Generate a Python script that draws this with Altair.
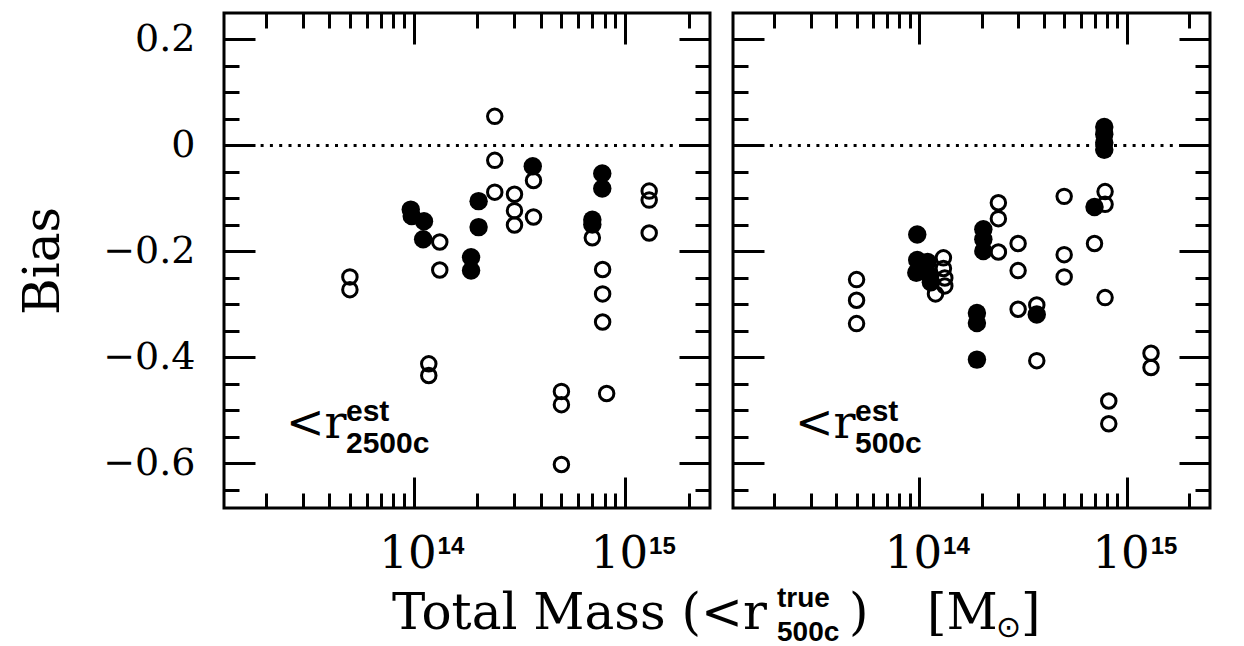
import altair as alt
import pandas as pd

# ---------------- data ----------------
# Left panel (< r_2500c^est): total mass (M_sun) and bias
left_open_mass = [5.0e13, 5.0e13, 2.42e14, 2.42e14, 2.42e14, 3.0e14, 3.0e14, 3.0e14,
                  3.69e14, 3.69e14, 1.33e14, 1.33e14, 1.18e14, 1.18e14, 5.0e14, 5.0e14,
                  5.0e14, 7.0e14, 7.83e14, 7.83e14, 7.83e14, 8.18e14, 1.30e15, 1.30e15, 1.30e15]
left_open_bias = [-0.248, -0.272, 0.055, -0.028, -0.088, -0.092, -0.123, -0.150,
                  -0.066, -0.135, -0.182, -0.235, -0.412, -0.434, -0.464, -0.489,
                  -0.602, -0.174, -0.234, -0.280, -0.333, -0.468, -0.086, -0.103, -0.165]
left_filled_mass = [9.7e13, 9.8e13, 1.12e14, 1.11e14, 1.87e14, 1.87e14, 2.03e14, 2.03e14,
                    3.66e14, 7.8e14, 7.8e14, 7.0e14, 7.0e14]
left_filled_bias = [-0.121, -0.133, -0.143, -0.177, -0.211, -0.236, -0.105, -0.154,
                    -0.039, -0.053, -0.081, -0.140, -0.149]

# Right panel (< r_500c^est)
right_open_mass = [5.0e13, 5.0e13, 5.0e13, 1.31e14, 1.31e14, 1.33e14, 1.33e14, 1.20e14,
                   2.41e14, 2.41e14, 2.41e14, 3.0e14, 3.0e14, 3.0e14, 3.69e14, 3.69e14,
                   5.0e14, 5.0e14, 5.0e14, 7.0e14, 7.87e14, 7.87e14, 7.87e14, 8.2e14, 8.2e14,
                   1.31e15, 1.31e15]
right_open_bias = [-0.253, -0.292, -0.336, -0.212, -0.232, -0.250, -0.265, -0.280,
                   -0.108, -0.138, -0.201, -0.185, -0.236, -0.309, -0.301, -0.406,
                   -0.096, -0.206, -0.248, -0.185, -0.087, -0.111, -0.287, -0.482, -0.525,
                   -0.392, -0.419]
right_filled_mass = [9.8e13, 9.8e13, 9.7e13, 1.10e14, 1.12e14, 1.14e14, 2.04e14, 2.04e14,
                     2.04e14, 1.90e14, 1.90e14, 1.90e14, 3.69e14, 7.0e14, 7.8e14, 7.8e14,
                     7.8e14, 7.8e14]
right_filled_bias = [-0.168, -0.216, -0.240, -0.220, -0.245, -0.258, -0.158, -0.177,
                     -0.199, -0.316, -0.335, -0.404, -0.319, -0.116, 0.035, 0.021,
                     0.005, -0.008]

# axis extents and ticks
x_domain = [1.27e13, 2.52e15]
y_domain = [-0.684, 0.25]
x_major = [1e14, 1e15]
x_minor = [2e13, 3e13, 4e13, 5e13, 6e13, 7e13, 8e13, 9e13,
           2e14, 3e14, 4e14, 5e14, 6e14, 7e14, 8e14, 9e14, 2e15]
y_major = [-0.6, -0.4, -0.2, 0.0, 0.2]
y_minor = [-0.65, -0.55, -0.5, -0.45, -0.35, -0.3, -0.25, -0.15, -0.1, -0.05, 0.05, 0.1, 0.15]
x_tick_base = ["10", "10"]
x_tick_exp = ["14", "15"]

SERIF = "DejaVu Serif"
SANSB = "Liberation Sans"
MAJ, MIN = 31, 15


def panel(open_m, open_b, fill_m, fill_b, sub_label, width, left_panel):
    xs = alt.Scale(type="log", domain=x_domain, nice=False)
    ys = alt.Scale(domain=y_domain, nice=False, zero=False)
    pts_open = pd.DataFrame({"m": open_m, "b": open_b})
    pts_fill = pd.DataFrame({"m": fill_m, "b": fill_b})
    allpts = pd.concat([pts_open, pts_fill])
    one = pd.DataFrame({"a": [0]})

    def ax_layer(xo, yo, xv, yv, size, labels):
        yaxis_kw = dict(orient=yo, values=yv, tickSize=size, offset=-size, domain=False,
                        grid=False, tickColor="black", tickWidth=3, labels=labels)
        if labels:
            yaxis_kw.update(labelExpr="datum.value == 0 ? '0' : format(datum.value, '.1f')",
                            labelFont=SERIF, labelFontSize=38, labelColor="black",
                            labelPadding=29, title="Bias", titleFont=SERIF,
                            titleFontSize=50, titleFontWeight="normal", titleColor="black",
                            titlePadding=34)
        else:
            yaxis_kw.update(title=None)
        return alt.Chart(allpts).mark_point(opacity=0).encode(
            x=alt.X("m:Q", scale=xs,
                    axis=alt.Axis(orient=xo, values=xv, tickSize=size, offset=-size,
                                  domain=False, labels=False, grid=False, title=None,
                                  tickColor="black", tickWidth=3)),
            y=alt.Y("b:Q", scale=ys, axis=alt.Axis(**yaxis_kw)),
        )

    layers = [
        ax_layer("bottom", "left", x_major, y_major, MAJ, left_panel),
        ax_layer("bottom", "left", x_minor, y_minor, MIN, False),
        ax_layer("top", "right", x_major, y_major, MAJ, False),
        ax_layer("top", "right", x_minor, y_minor, MIN, False),
    ]

    zero = pd.DataFrame({"b": [0.0]})
    layers.append(alt.Chart(zero).mark_rule(color="black", strokeWidth=3,
                                            strokeDash=[3, 6.3]).encode(
        y=alt.Y("b:Q", scale=ys, axis=None)))

    layers.append(alt.Chart(pts_fill).mark_circle(size=340, color="black", opacity=1).encode(
        x=alt.X("m:Q", scale=xs, axis=None), y=alt.Y("b:Q", scale=ys, axis=None)))
    layers.append(alt.Chart(pts_open).mark_point(shape="circle", filled=False, size=210,
                                                 strokeWidth=3, color="black",
                                                 opacity=1).encode(
        x=alt.X("m:Q", scale=xs, axis=None), y=alt.Y("b:Q", scale=ys, axis=None)))

    # x tick labels 10^14, 10^15
    ticks = pd.DataFrame({"v": x_major, "base": x_tick_base, "exp": x_tick_exp})
    layers.append(alt.Chart(ticks).mark_text(align="right", baseline="alphabetic", font=SERIF,
                                             fontSize=45, dx=23, color="black").encode(
        x=alt.X("v:Q", scale=xs, axis=None), y=alt.value(555), text="base:N"))
    layers.append(alt.Chart(ticks).mark_text(align="left", baseline="alphabetic", font=SANSB,
                                             fontWeight="bold", fontSize=24, dx=24,
                                             color="black").encode(
        x=alt.X("v:Q", scale=xs, axis=None), y=alt.value(541), text="exp:N"))

    # panel annotation  < r^est_sub
    def txt(s, x, y, font, size, weight="normal", align="left"):
        return alt.Chart(one).mark_text(text=s, align=align, baseline="alphabetic",
                                        font=font, fontSize=size, fontWeight=weight,
                                        color="black").encode(x=alt.value(x), y=alt.value(y))

    layers.append(txt("<r", 62, 425, SERIF, 46))
    layers.append(txt("est", 122, 408, SANSB, 30, "bold"))
    layers.append(txt(sub_label, 122, 440, SANSB, 30, "bold"))

    if left_panel:
        # shared x-axis title: Total Mass (<r^true_500c) [M_sun]
        layers.append(txt("Total Mass (<r", 168, 616, SERIF, 50))
        layers.append(txt("true", 553, 594, SANSB, 28, "bold"))
        layers.append(txt("500c", 553, 628, SANSB, 28, "bold"))
        layers.append(txt(")", 625, 616, SERIF, 50))
        layers.append(txt("[M", 703, 616, SERIF, 50))
        layers.append(txt("\u2299", 772, 624, "DejaVu Sans", 30))
        layers.append(txt("]", 797, 616, SERIF, 50))

    return alt.layer(*layers).resolve_axis(x="independent", y="independent").properties(
        width=width, height=495)


left = panel(left_open_mass, left_open_bias, left_filled_mass, left_filled_bias,
             "2500c", 486, True)
right = panel(right_open_mass, right_open_bias, right_filled_mass, right_filled_bias,
              "500c", 477, False)

chart = alt.hconcat(left, right, spacing=23, bounds="flush").properties(
    padding={"left": 17, "top": 10, "right": 5, "bottom": 5},
    background="white",
).configure_view(stroke="black", strokeWidth=3)

chart.save("out.html", embed_options={"renderer": "svg", "actions": False})
